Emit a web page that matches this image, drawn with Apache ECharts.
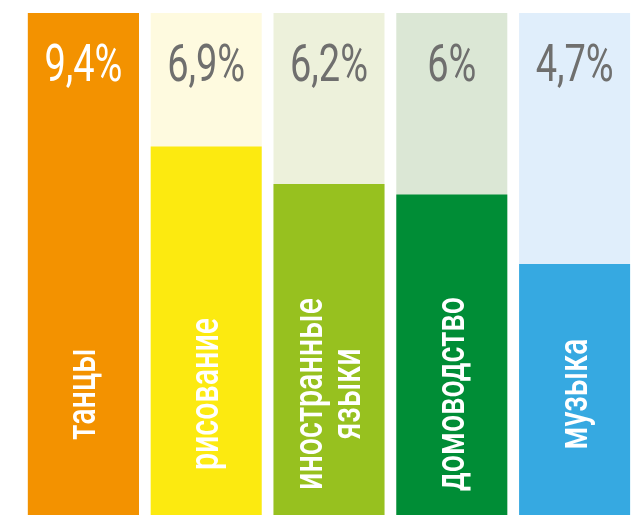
<!DOCTYPE html>
<html>
<head>
<meta charset="utf-8">
<script src="https://cdn.jsdelivr.net/npm/echarts@6/dist/echarts.min.js"></script>
<style>
  html, body { margin: 0; padding: 0; background: #fff; }
  #chart { width: 641px; height: 515px; }
</style>
</head>
<body>
<div id="chart"></div>
<script>
// категории и значения (%)
const categories = ['танцы', 'рисование', 'иностранные\nязыки', 'домоводство', 'музыка'];
const values = [9.4, 6.9, 6.2, 6, 4.7];
const valueLabels = ['9,4%', '6,9%', '6,2%', '6%', '4,7%'];
const maxValue = 9.4;

const barColors = ['#F39200', '#FCEA10', '#97C11F', '#008D36', '#36A9E1'];
const bgColors = ['#F39200', '#FEFADF', '#EDF1DB', '#DBE7D5', '#E0EEFB'];
const pctColors = ['#FFFFFF', '#6F6F6E', '#6F6F6E', '#6F6F6E', '#6F6F6E'];

const myChart = echarts.init(document.getElementById('chart'));

const option = {
  animation: false,
  grid: { left: 22, right: 5, top: 13, bottom: 0 },
  xAxis: {
    type: 'category',
    data: categories,
    axisLine: { show: false },
    axisTick: { show: false },
    axisLabel: { show: false }
  },
  yAxis: {
    type: 'value',
    min: 0,
    max: maxValue,
    show: false
  },
  series: [
    {
      // светлый фон колонки
      type: 'bar',
      barWidth: 111,
      barGap: '-100%',
      silent: true,
      data: values.map((v, i) => ({
        value: maxValue,
        itemStyle: { color: bgColors[i] }
      }))
    },
    {
      type: 'bar',
      barWidth: 111,
      data: values.map((v, i) => ({
        value: v,
        itemStyle: { color: barColors[i] }
      }))
    },
    {
      // проценты сверху (узкий шрифт через scaleX)
      type: 'custom',
      z: 10,
      silent: true,
      data: values.map((v, i) => [i, maxValue]),
      renderItem: (params, api) => {
        const i = api.value(0);
        const pt = api.coord([i, api.value(1)]);
        return {
          type: 'text',
          x: pt[0],
          y: pt[1] + 55,
          scaleX: 0.73,
          style: {
            text: valueLabels[i],
            fill: pctColors[i],
            font: '400 52px Roboto',
            align: 'center',
            verticalAlign: 'middle'
          }
        };
      }
    },
    {
      // подписи категорий, повернутые
      type: 'custom',
      z: 10,
      silent: true,
      data: values.map((v, i) => [i, 0]),
      renderItem: (params, api) => {
        const i = api.value(0);
        const pt = api.coord([i, api.value(1)]);
        return {
          type: 'text',
          x: pt[0] + 2,
          y: pt[1] - 121,
          rotation: Math.PI / 2,
          scaleX: 0.76,
          style: {
            text: categories[i],
            fill: '#fff',
            font: '500 40px Roboto',
            lineHeight: 38,
            align: 'center',
            verticalAlign: 'middle'
          }
        };
      }
    }
  ]
};

myChart.setOption(option);
</script>
</body>
</html>
